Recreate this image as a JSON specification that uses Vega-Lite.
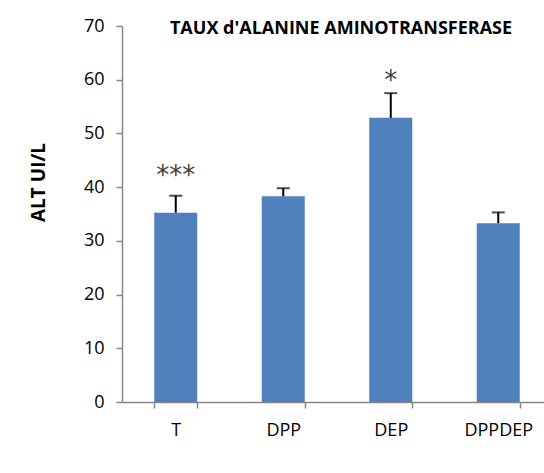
{
  "$schema": "https://vega.github.io/schema/vega-lite/v6.json",
  "autosize": {"type": "none"},
  "padding": {"left": 122, "top": 26, "right": 0, "bottom": 71},
  "width": 430,
  "height": 376,
  "background": "white",
  "config": {
    "view": {"stroke": null},
    "font": "Open Sans"
  },
  "title": {
    "text": "TAUX  d'ALANINE AMINOTRANSFERASE",
    "font": "Open Sans",
    "fontSize": 18,
    "fontWeight": "bold",
    "color": "#000000",
    "anchor": "middle",
    "baseline": "middle",
    "offset": 0,
    "dy": 30,
    "dx": 4
  },
  "data": {
    "values": [
      {"group": "T", "mean": 35.25, "upper": 38.4, "star": "***", "starY": 43.2},
      {"group": "DPP", "mean": 38.3, "upper": 39.8, "star": "", "starY": null},
      {"group": "DEP", "mean": 52.9, "upper": 57.5, "star": "*", "starY": 60.9},
      {"group": "DPPDEP", "mean": 33.3, "upper": 35.3, "star": "", "starY": null}
    ]
  },
  "encoding": {
    "x": {
      "field": "group",
      "type": "nominal",
      "sort": null,
      "scale": {"paddingInner": 0.6, "paddingOuter": 0.3},
      "axis": {
        "title": null,
        "labelAngle": 0,
        "labelFont": "Open Sans",
        "labelFontSize": 18,
        "labelColor": "#000000",
        "labelPadding": 13,
        "domainColor": "#868686",
        "domainWidth": 1.5,
        "tickColor": "#868686",
        "tickWidth": 1.5,
        "tickSize": 6,
        "tickBand": "extent"
      }
    }
  },
  "layer": [
    {
      "mark": {"type": "bar", "color": "#4F81BD"},
      "encoding": {
        "y": {
          "field": "mean",
          "type": "quantitative",
          "scale": {"domain": [0, 70]},
          "axis": {
            "title": "ALT  UI/L",
            "titleFont": "Open Sans",
            "titleFontSize": 19,
            "titleFontWeight": "bold",
            "titleColor": "#000000",
            "titleAngle": -90,
            "titleAlign": "center",
            "titleBaseline": "middle",
            "titleX": -84,
            "titleY": 156,
            "values": [0, 10, 20, 30, 40, 50, 60, 70],
            "grid": false,
            "labelFont": "Open Sans",
            "labelFontSize": 18,
            "labelColor": "#000000",
            "labelPadding": 12,
            "domainColor": "#868686",
            "domainWidth": 1.5,
            "tickColor": "#868686",
            "tickWidth": 1.5,
            "tickSize": 6
          }
        }
      }
    },
    {
      "mark": {"type": "rule", "color": "#000000", "strokeWidth": 2},
      "encoding": {
        "y": {"field": "mean", "type": "quantitative"},
        "y2": {"field": "upper"}
      }
    },
    {
      "mark": {"type": "tick", "color": "#000000", "thickness": 2, "size": 13},
      "encoding": {
        "y": {"field": "upper", "type": "quantitative"}
      }
    },
    {
      "mark": {"type": "text", "color": "#404040", "fontSize": 26, "font": "DejaVu Sans", "baseline": "middle", "dy": 6},
      "encoding": {
        "y": {"field": "starY", "type": "quantitative"},
        "text": {"field": "star"}
      }
    }
  ]
}
